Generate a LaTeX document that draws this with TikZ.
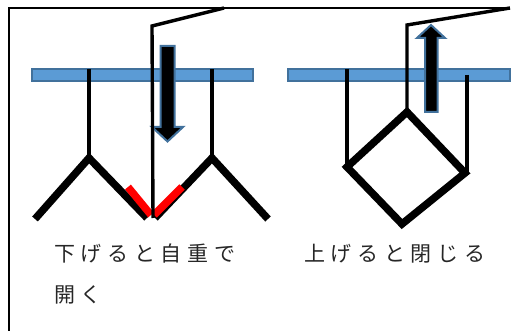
\documentclass[tikz,border=0pt]{standalone}
\usepackage{fontspec}
\newfontfamily\jpfont[LetterSpace=27]{Noto Sans CJK JP}
\definecolor{barfill}{HTML}{5B9BD5}
\definecolor{barline}{HTML}{41719C}
\tikzset{
  bar/.style={fill=barfill,draw=barline,line width=2pt},
  frameline/.style={black,line width=1.8pt},
  rod/.style={black,line width=3.4pt,line cap=butt,line join=miter},
  wing/.style={black,line width=7.5pt,line join=miter},
  redpart/.style={red,line width=7.5pt},
  blockarrow/.style={fill=black,draw=barline,line width=2pt,line join=miter},
  jlabel/.style={anchor=west,inner sep=0pt,font=\jpfont\fontsize{21}{21}\selectfont,text=black!85}
}
\begin{document}
\begin{tikzpicture}[x=1pt,y=-1pt]
\useasboundingbox (0,0) rectangle (511,331);
\fill[white] (0,0) rectangle (511,331);
\draw[frameline] (9,331) -- (9,8) -- (506,8);
% left
\draw[bar] (31.5,69) rectangle (253,81);
\draw[rod] (89,69) -- (89,158);
\draw[rod] (212,69) -- (212,158);
\draw[wing] (35,219) -- (89,158) -- (147,218);
\draw[wing] (155,218) -- (212,158) -- (268,219);
\draw[redpart] (128,187) -- (151,215);
\draw[redpart] (154,215) -- (182,187);
\draw[blockarrow] (160.5,46) -- (174.5,46) -- (174.5,127) -- (183,127) -- (167.5,141.5) -- (152,127) -- (160.5,127) -- cycle;
\draw[rod] (224,8) -- (152,26) -- (153,218);
% right
\draw[bar] (288,69) rectangle (510,81);
\draw[rod] (347,69) -- (347,166);
\draw[rod] (467,75) -- (467,173);
\draw[blockarrow] (425,112) -- (437.5,112) -- (437.5,38) -- (445,38) -- (431,25) -- (417,38) -- (425,38) -- cycle;
\draw[rod] (510,8) -- (407,25) -- (407,111);
\draw[wing] (407,112) -- (465,173) -- (402,224) -- (347,167) -- cycle;
% text
\node[jlabel] (t1) at (54,254) {下げると自重で};
\node[jlabel] (t2) at (54,295) {開く};
\node[jlabel] (t3) at (304,254) {上げると閉じる};
\end{tikzpicture}
\end{document}
